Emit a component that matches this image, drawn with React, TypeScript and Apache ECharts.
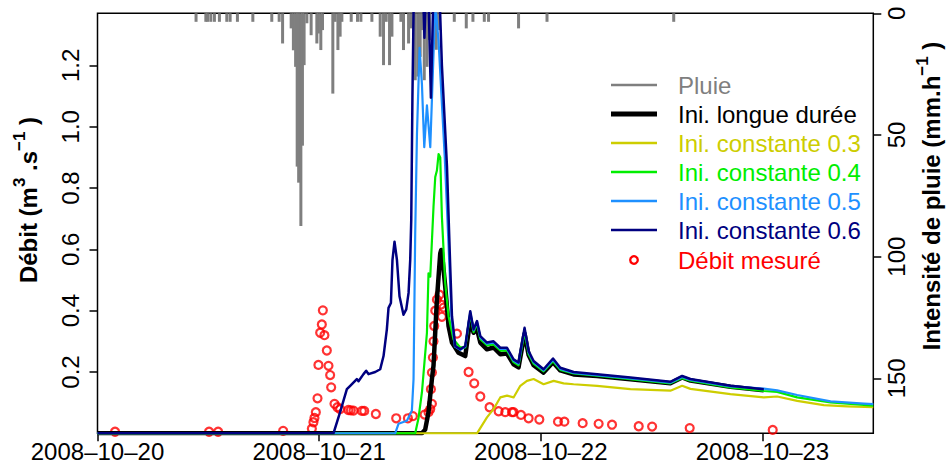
import React, { useEffect, useRef } from 'react';
import * as echarts from 'echarts';

const FONT = "'Liberation Sans', Arial, Helvetica, sans-serif";

// x axis: hours since 2008-10-20 00:00
const dayTicks = [0, 24, 48, 72];
const dayLabels = ['2008–10–20', '2008–10–21', '2008–10–22', '2008–10–23'];
const qTicks = [0.2, 0.4, 0.6, 0.8, 1.0, 1.2];
const rainTicks = [0, 50, 100, 150];

// Rain intensity (mm/h) [hour, value]
const rain: [number, number][] = [
  [10.67, 3.5], [11.73, 3.5], [11.92, 3.5], [12.27, 3.5], [12.66, 3.5], [13.2, 3.5],
  [14.0, 3.5], [14.36, 3.5], [15.15, 3.5], [16.82, 3.5], [18.87, 3.5], [19.67, 3.5],
  [20.04, 12.4], [20.97, 6.2], [21.21, 15.2], [21.45, 22], [21.62, 63], [21.78, 69.6],
  [22.02, 87.4], [22.19, 54.4], [22.37, 21.3], [22.67, 4.1], [23.13, 9], [23.75, 12.4],
  [23.92, 8.3], [24.18, 15.1], [24.36, 6.9], [25.48, 33], [25.73, 3.5], [26.03, 15.1],
  [26.27, 9.6], [26.46, 3.5], [27.47, 3.5], [28.15, 3.5], [28.52, 3.5], [29.71, 3.5],
  [30.61, 9.6], [30.97, 21.3], [31.26, 3.5], [31.62, 21.3], [31.88, 9.6], [32.85, 3.5],
  [33.13, 15.1], [33.68, 12.4], [33.94, 6.2], [34.22, 22], [34.4, 27.5], [34.69, 26],
  [34.94, 17.9], [35.13, 6.9], [35.38, 27.5], [35.67, 22], [35.95, 11], [36.38, 11],
  [36.68, 15], [36.93, 6.9], [38.63, 3.5], [39.93, 6.2], [40.65, 3.5], [41.88, 3.5],
  [42.34, 3.5], [45.59, 6.2], [48.67, 3.5], [62.39, 3.5],
];

// Discharge (m3/s) [hour, value]
const longueDuree: [number, number][] = [
  [0, 0], [35.13, 0], [35.48, 0.012], [35.84, 0.069], [36.21, 0.177], [36.38, 0.22],
  [36.75, 0.436], [37.11, 0.587], [37.22, 0.598], [37.29, 0.59], [37.65, 0.479],
  [38.01, 0.35], [38.38, 0.296], [39.09, 0.263], [39.82, 0.252], [40.36, 0.371],
  [40.72, 0.328], [41.09, 0.34], [41.45, 0.296], [42.17, 0.274], [42.88, 0.28],
  [43.61, 0.258], [44.34, 0.26], [45.05, 0.225], [45.59, 0.215], [46.24, 0.325],
  [46.68, 0.255], [47.22, 0.222], [48.3, 0.198], [49.32, 0.232], [50.11, 0.205],
  [51.55, 0.192], [54.09, 0.187], [57.7, 0.176], [62.03, 0.163], [63.3, 0.182],
  [64.2, 0.172], [68.53, 0.152], [72.14, 0.14],
];

const constante03: [number, number][] = [
  [0, 0], [41.09, 0], [42.17, 0.052], [42.88, 0.079], [43.61, 0.117], [44.34, 0.123],
  [45.05, 0.117], [45.78, 0.155], [46.5, 0.171], [47.22, 0.177], [48.3, 0.16],
  [49.39, 0.171], [50.47, 0.163], [51.55, 0.16], [54.09, 0.155], [57.7, 0.144],
  [62.03, 0.139], [63.3, 0.155], [64.2, 0.145], [68.53, 0.128], [72.14, 0.117],
  [73.59, 0.12], [75.76, 0.106], [78.64, 0.092], [81.18, 0.088], [84, 0.085],
];

const constante04: [number, number][] = [
  [0, 0], [34.4, 0], [34.76, 0.05], [35.13, 0.134], [35.67, 0.328], [35.84, 0.522],
  [36.03, 0.511], [36.38, 0.738], [36.57, 0.836], [36.75, 0.857], [36.93, 0.911],
  [37.11, 0.9], [37.29, 0.706], [37.65, 0.49], [38.01, 0.382], [38.55, 0.306],
  [39.28, 0.28], [39.82, 0.28], [40.36, 0.39], [40.72, 0.33], [41.09, 0.357],
  [41.45, 0.307], [42.17, 0.287], [42.88, 0.29], [43.61, 0.27], [44.34, 0.27],
  [45.05, 0.232], [45.59, 0.222], [46.24, 0.33], [46.68, 0.258], [47.22, 0.227],
  [48.3, 0.202], [49.32, 0.235], [50.11, 0.207], [51.55, 0.195], [54.09, 0.188],
  [57.7, 0.177], [62.03, 0.163], [63.3, 0.18], [64.2, 0.172], [68.53, 0.15],
  [72.14, 0.138], [73.59, 0.135], [75.76, 0.117], [79.37, 0.101], [82.98, 0.093], [84, 0.09],
];

const constante05: [number, number][] = [
  [0, 0], [32.23, 0], [32.59, 0.031], [33.5, 0.041], [34.04, 0.074], [34.22, 0.177],
  [34.4, 0.652], [34.59, 0.976], [34.87, 1.257], [35.13, 1.138], [35.38, 0.933],
  [35.67, 1.07], [36.03, 0.933], [36.57, 1.4], [36.93, 1.279], [37.6, 0.9],
  [38.1, 0.55], [38.33, 0.38], [38.7, 0.283], [39.28, 0.272], [39.82, 0.283],
  [40.36, 0.395], [40.72, 0.336], [41.09, 0.362], [41.45, 0.313], [42.17, 0.292],
  [42.88, 0.296], [43.61, 0.275], [44.34, 0.275], [45.05, 0.237], [45.59, 0.227],
  [46.24, 0.34], [46.68, 0.264], [47.22, 0.232], [48.3, 0.205], [49.32, 0.24],
  [50.11, 0.21], [51.55, 0.197], [54.09, 0.19], [57.7, 0.179], [62.03, 0.165],
  [63.3, 0.184], [64.2, 0.174], [68.53, 0.153], [72.14, 0.146], [73.59, 0.14],
  [75.76, 0.125], [79.37, 0.104], [82.98, 0.097], [84, 0.095],
];

const constante06: [number, number][] = [
  [0, 0], [25.55, 0], [25.92, 0.036], [26.27, 0.069], [27.0, 0.144], [27.36, 0.155],
  [28.08, 0.177], [28.26, 0.17], [28.8, 0.193], [29.09, 0.204], [29.34, 0.193],
  [30.07, 0.2], [30.61, 0.209], [30.97, 0.252], [31.33, 0.339], [31.51, 0.409],
  [31.77, 0.425], [31.94, 0.566], [32.16, 0.625], [32.42, 0.566], [32.7, 0.447],
  [33.13, 0.387], [33.43, 0.404], [33.68, 0.458], [33.86, 0.566], [33.97, 0.695],
  [34.1, 1.1], [34.22, 1.37], [34.4, 1.6], [35.1, 1.6], [35.4, 1.29], [35.7, 1.6],
  [36.1, 1.095], [36.5, 1.6], [36.9, 1.6], [37.1, 1.37], [37.29, 1.2], [37.84, 0.87],
  [38.19, 0.544], [38.38, 0.382], [38.74, 0.285], [39.28, 0.274], [39.82, 0.285],
  [40.36, 0.398], [40.72, 0.339], [41.09, 0.366], [41.45, 0.317], [42.17, 0.296],
  [42.88, 0.3], [43.61, 0.279], [44.34, 0.279], [45.05, 0.241], [45.59, 0.231],
  [46.24, 0.344], [46.68, 0.268], [47.22, 0.236], [48.3, 0.209], [49.32, 0.244],
  [50.11, 0.214], [51.55, 0.2], [54.09, 0.193], [57.7, 0.182], [62.03, 0.168],
  [63.3, 0.187], [64.2, 0.177], [68.53, 0.155], [72.14, 0.144],
];

const mesure: [number, number][] = [
  [1.9, 0.005], [12.08, 0.005], [13.06, 0.005], [20.1, 0.008], [23.21, 0.015],
  [23.38, 0.036], [23.49, 0.05], [23.64, 0.069], [23.82, 0.114], [23.92, 0.223],
  [24.11, 0.328], [24.29, 0.355], [24.4, 0.401], [24.57, 0.32], [24.83, 0.27],
  [25.01, 0.22], [25.19, 0.19], [25.3, 0.15], [25.66, 0.096], [25.98, 0.085],
  [26.27, 0.079], [27.17, 0.076], [27.43, 0.075], [27.72, 0.074], [28.63, 0.073],
  [28.88, 0.073], [30.14, 0.063], [32.34, 0.049], [33.61, 0.049], [34.15, 0.056],
  [35.41, 0.061], [35.84, 0.069], [36.03, 0.079], [36.21, 0.096], [36.1, 0.144],
  [36.21, 0.198], [36.32, 0.247], [36.38, 0.3], [36.46, 0.35], [36.57, 0.4],
  [36.75, 0.436], [37.03, 0.452], [37.19, 0.42], [37.29, 0.38], [37.47, 0.41],
  [38.92, 0.325], [40.18, 0.2], [40.79, 0.163], [41.45, 0.12], [42.45, 0.085],
  [43.43, 0.072], [44.15, 0.069], [44.88, 0.069], [45.05, 0.069], [45.85, 0.06],
  [46.68, 0.049], [47.84, 0.045], [49.86, 0.038], [50.55, 0.038], [52.53, 0.033],
  [54.26, 0.031], [55.71, 0.028], [58.6, 0.023], [60.05, 0.022], [64.12, 0.017],
  [73.11, 0.011],
];

const C_RAIN = '#7F7F7F';
const C_LONG = '#000000';
const C_03 = '#CDCD00';
const C_04 = '#00EE00';
const C_05 = '#1E90FF';
const C_06 = '#000080';
const C_MES = '#FF0000';

const legendItems = [
  { label: 'Pluie', color: C_RAIN, width: 2.5 },
  { label: 'Ini. longue durée', color: C_LONG, width: 5 },
  { label: 'Ini. constante 0.3', color: C_03, width: 2.5 },
  { label: 'Ini. constante 0.4', color: C_04, width: 2.5 },
  { label: 'Ini. constante 0.5', color: C_05, width: 2.5 },
  { label: 'Ini. constante 0.6', color: C_06, width: 2.5 },
];

function buildOption() {
  const graphics: any[] = [];
  legendItems.forEach((it, i) => {
    const y = 85 + i * 29;
    graphics.push({
      type: 'line',
      shape: { x1: 611, y1: y, x2: 657, y2: y },
      style: { stroke: it.color, lineWidth: it.width },
    });
    graphics.push({
      type: 'text',
      x: 678,
      y,
      style: { text: it.label, fill: it.color, fontSize: 24, fontFamily: FONT, verticalAlign: 'middle', align: 'left' },
    });
  });
  graphics.push({
    type: 'circle',
    shape: { cx: 634, cy: 260, r: 3.8 },
    style: { fill: 'none', stroke: C_MES, lineWidth: 2.3 },
  });
  graphics.push({
    type: 'text',
    x: 678,
    y: 260,
    style: { text: 'Débit mesuré', fill: C_MES, fontSize: 24, fontFamily: FONT, verticalAlign: 'middle', align: 'left' },
  });
  const supStyle = { fontSize: 17, fontWeight: 'bold', fontFamily: FONT, fill: '#000', verticalAlign: 'top', lineHeight: 17 };
  graphics.push({
    type: 'text',
    x: 28,
    y: 200,
    rotation: Math.PI / 2,
    style: {
      text: 'Débit (m{sup|3} .s{sup|−1} )',
      fontSize: 24, fontWeight: 'bold', fontFamily: FONT, fill: '#000', lineHeight: 34,
      align: 'center', verticalAlign: 'middle',
      rich: { sup: supStyle },
    },
  });
  graphics.push({
    type: 'text',
    x: 931,
    y: 196,
    rotation: Math.PI / 2,
    style: {
      text: 'Intensité de pluie (mm.h{sup|−1} )',
      fontSize: 24, fontWeight: 'bold', fontFamily: FONT, fill: '#000', lineHeight: 34,
      align: 'center', verticalAlign: 'middle',
      rich: { sup: supStyle },
    },
  });

  const lineSeries = (name: string, data: [number, number][], color: string, width: number) => ({
    name, type: 'line', data, xAxisIndex: 0, yAxisIndex: 0,
    symbol: 'none', showSymbol: false, clip: true,
    lineStyle: { color, width, join: 'round' }, itemStyle: { color },
    emphasis: { disabled: true }, silent: true,
  });

  return {
    animation: false,
    textStyle: { fontFamily: FONT },
    grid: {
      left: 97.5, right: 72.7, top: 13.3, bottom: 36.7,
      show: true, borderColor: '#000', borderWidth: 1.5, backgroundColor: 'transparent',
      containLabel: false,
    },
    xAxis: {
      type: 'value', min: 0, max: 84, interval: 24,
      axisLine: { show: false },
      axisTick: { show: true, length: 8, lineStyle: { color: '#000', width: 1.5 }, customValues: dayTicks },
      axisLabel: {
        customValues: dayTicks, margin: 6, fontSize: 24, color: '#000', fontFamily: FONT,
        formatter: (v: number) => dayLabels[dayTicks.indexOf(v)] ?? '',
      },
      splitLine: { show: false },
    },
    yAxis: [
      {
        type: 'value', position: 'left', min: 0, max: 1.37, interval: 0.2,
        axisLine: { show: false },
        axisTick: { show: true, length: 8, lineStyle: { color: '#000', width: 1.5 }, customValues: qTicks },
        axisLabel: {
          customValues: qTicks, rotate: 90, margin: 15, fontSize: 24, color: '#000', fontFamily: FONT,
          formatter: (v: number) => v.toFixed(1),
        },
        splitLine: { show: false },
      },
      {
        type: 'value', position: 'right', min: 0, max: 172.6, inverse: true, interval: 50,
        axisLine: { show: false },
        axisTick: { show: true, length: 8, lineStyle: { color: '#000', width: 1.5 }, customValues: rainTicks },
        axisLabel: {
          customValues: rainTicks, rotate: 90, margin: 11, fontSize: 24, color: '#000', fontFamily: FONT,
          formatter: (v: number) => String(v),
        },
        splitLine: { show: false },
      },
    ],
    series: [
      {
        name: 'Pluie', type: 'bar', data: rain, xAxisIndex: 0, yAxisIndex: 1,
        barWidth: 3, itemStyle: { color: C_RAIN }, silent: true, emphasis: { disabled: true },
      },
      lineSeries('Ini. longue durée', longueDuree, C_LONG, 4.5),
      lineSeries('Ini. constante 0.3', constante03, C_03, 2.2),
      lineSeries('Ini. constante 0.4', constante04, C_04, 2.2),
      lineSeries('Ini. constante 0.5', constante05, C_05, 2.2),
      lineSeries('Ini. constante 0.6', constante06, C_06, 2.5),
      {
        name: 'Débit mesuré', type: 'scatter', data: mesure, xAxisIndex: 0, yAxisIndex: 0,
        symbol: 'circle', symbolSize: 8,
        itemStyle: { color: 'rgba(255,255,255,0)', borderColor: C_MES, borderWidth: 2.2 },
        silent: true, emphasis: { disabled: true },
      },
    ],
    graphic: graphics,
  };
}

export default function App() {
  const ref = useRef<HTMLDivElement>(null);
  useEffect(() => {
    document.body.style.margin = '0';
    const chart = echarts.init(ref.current!, null, { renderer: 'svg' });
    chart.setOption(buildOption() as any);
    return () => chart.dispose();
  }, []);
  return <div ref={ref} style={{ width: 946, height: 470 }} />;
}
